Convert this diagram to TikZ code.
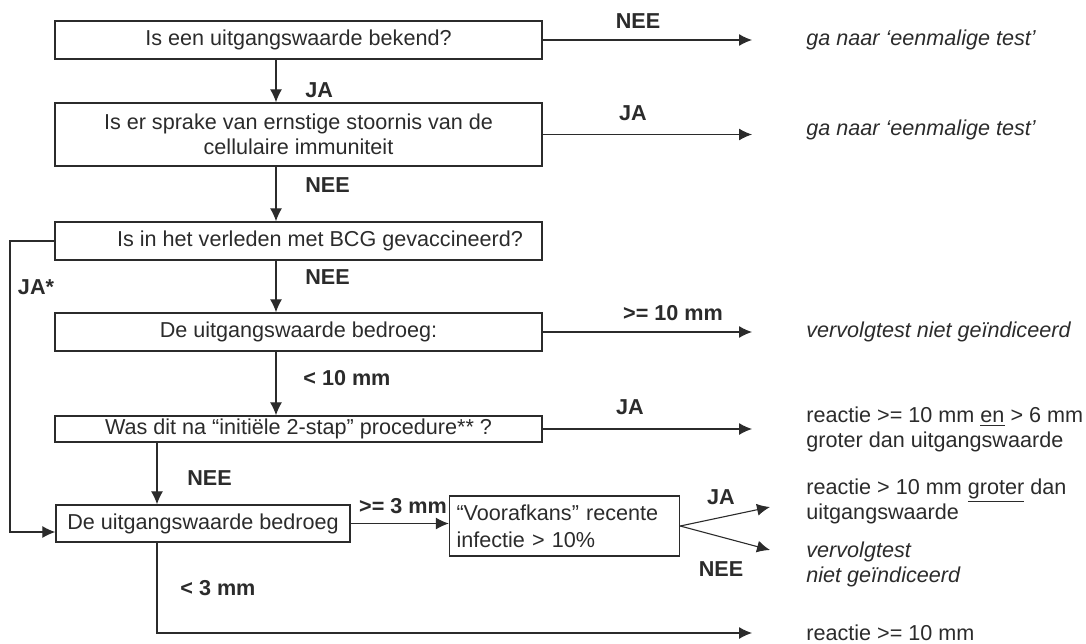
\documentclass[tikz,border=0pt]{standalone}
\usepackage{fontspec}
\setmainfont{Liberation Sans}
\usetikzlibrary{arrows.meta}
\definecolor{ink}{HTML}{2B2B2B}

\begin{document}
\begin{tikzpicture}[x=0.5pt, y=-0.5pt, color=ink,
	font=\fontsize{10.8}{12.5}\selectfont,
	box/.style={draw, line width=0.7pt, inner sep=1pt, align=center},
	lbl/.style={inner sep=0pt, font=\fontsize{10.8}{12.5}\selectfont\bfseries},
	res/.style={anchor=west, inner sep=0pt, align=left},
	arr/.style={line width=0.55pt, arrows={-Latex[length=6.5pt,width=6pt]}}]

	\useasboundingbox (0,0) rectangle (1086,643);

	\node [box, minimum width=243.5pt, minimum height=19pt] (b1) at (298.5,40) {Is een uitgangswaarde bekend?};
	\node [box, minimum width=243.5pt, minimum height=31.5pt] (b2) at (298.5,134.5) {Is er sprake van ernstige stoornis van de\\cellulaire immuniteit};
	\node [box, minimum width=243.5pt, minimum height=19pt] (b3) at (298.5,241) {\hspace*{21.5pt}Is in het verleden met BCG gevaccineerd?};
	\node [box, minimum width=243.5pt, minimum height=19pt] (b4) at (298.5,332) {De uitgangswaarde bedroeg:};
	\node [box, minimum width=243.5pt, minimum height=13pt] (b5) at (298.5,429) {Was dit na “initiële 2-stap” procedure** ?};
	\node [box, minimum width=147pt, minimum height=18.5pt] (b6) at (203,523.5) {De uitgangswaarde bedroeg};
	\node [box, align=left, text width=108pt, inner xsep=3.5pt, minimum height=30pt, font=\fontsize{10.8}{13.5}\selectfont] (b7) at (564.5,526) {“Voorafkans” recente\\infectie > 10\%};

	\node [res, font=\fontsize{10.8}{12.5}\selectfont\itshape] (r1) at (806,40) {ga naar ‘eenmalige test’};
	\node [res, font=\fontsize{10.8}{12.5}\selectfont\itshape] (r2) at (806,130) {ga naar ‘eenmalige test’};
	\node [res, font=\fontsize{10.8}{12.5}\selectfont\itshape] (r4) at (806,332) {vervolgtest niet geïndiceerd};
	\node [res] (r5) at (806,429) {reactie >= 10 mm \underline{en} > 6 mm\\groter dan uitgangswaarde};
	\node [res] (r7) at (806,501) {reactie > 10 mm \underline{groter} dan\\uitgangswaarde};
	\node [res, font=\fontsize{10.8}{12.5}\selectfont\itshape] (r8) at (806,564) {vervolgtest\\niet geïndiceerd};
	\node [res] (r9) at (806,633) {reactie >= 10 mm};

	\coordinate (main) at (276,0);
	\coordinate (lane) at (157,0);
	\coordinate (loop) at (10,0);
	\coordinate (tip) at (752,0);
	\coordinate (ja7) at (770,507);
	\coordinate (nee7) at (770,550);

	\draw [arr] (b1.east) -- (b1.east -| tip);
	\draw [arr] (b2.east) -- (b2.east -| tip);
	\draw [arr] (b4.east) -- (b4.east -| tip);
	\draw [arr] (b5.east) -- (b5.east -| tip);
	\draw [arr] (b1.south -| main) -- (b2.north -| main);
	\draw [arr] (b2.south -| main) -- (b3.north -| main);
	\draw [arr] (b3.south -| main) -- (b4.north -| main);
	\draw [arr] (b4.south -| main) -- (b5.north -| main);
	\draw [arr] (b5.south -| lane) -- (b6.north -| lane);
	\draw [arr] (b3.west) -- (b3.west -| loop) |- ([yshift=-4.25pt]b6.west);
	\draw [arr] (b6.east) -- (b6.east -| b7.west);
	\draw [arr] (b7.east) -- (ja7);
	\draw [arr] (b7.east) -- (nee7);
	\draw [arr] (b6.south -| lane) |- (r9.west -| tip);

	\node [lbl] (l1) at (638,21) {NEE};
	\node [lbl] (l2) at (633,113) {JA};
	\node [lbl] (l4) at (673,313) {>= 10 mm};
	\node [lbl] (l5) at (630,407) {JA};
	\node [lbl, anchor=west] (d1) at (305,90) {JA};
	\node [lbl, anchor=west] (d2) at (305,185) {NEE};
	\node [lbl, anchor=west] (d3) at (305,277) {NEE};
	\node [lbl, anchor=west] (d4) at (303,378) {< 10 mm};
	\node [lbl, anchor=west] (d5) at (187,478) {NEE};
	\node [lbl, anchor=west] (d6) at (180,588) {< 3 mm};
	\node [lbl] (ja) at (36,287) {JA*};
	\node [lbl] (l6) at (403,506) {>= 3 mm};
	\node [lbl] (l7) at (721,497) {JA};
	\node [lbl] (l8) at (721,569) {NEE};

\end{tikzpicture}
\end{document}
